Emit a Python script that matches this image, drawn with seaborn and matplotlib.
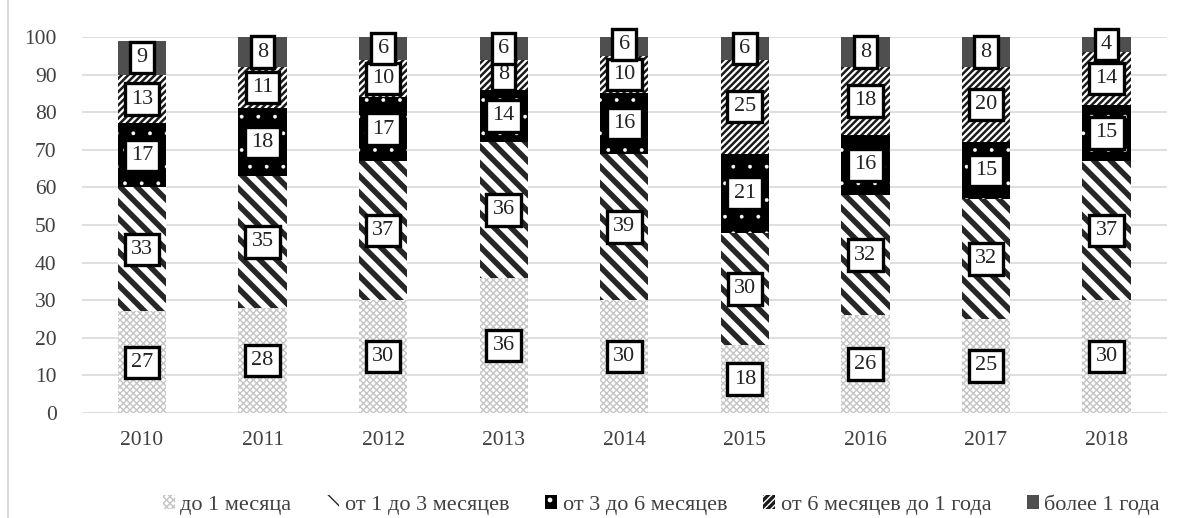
import numpy as np
import pandas as pd
import matplotlib.pyplot as plt
import seaborn as sns
from matplotlib.patches import Patch
from matplotlib.lines import Line2D

years = ["2010", "2011", "2012", "2013", "2014", "2015", "2016", "2017", "2018"]
series = ["до 1 месяца", "от 1 до 3 месяцев", "от 3 до 6 месяцев",
          "от 6 месяцев до 1 года", "более 1 года"]
upto_1m = [27, 28, 30, 36, 30, 18, 26, 25, 30]
m1_3 = [33, 35, 37, 36, 39, 30, 32, 32, 37]
m3_6 = [17, 18, 17, 14, 16, 21, 16, 15, 15]
m6_12 = [13, 11, 10, 8, 10, 25, 18, 20, 14]
over_1y = [9, 8, 6, 6, 6, 6, 8, 8, 4]
values = [upto_1m, m1_3, m3_6, m6_12, over_1y]

# face, hatch, hatch color, hatch linewidth
styles = [
    ("white", "xxxxx", "#c4c4c4", 1.0),
    ("white", "\\\\", "#262626", 4.0),
    ("black", ".", "white", 0.3),
    ("#1a1a1a", "/////", "white", 1.6),
    ("#4f4f4f", "", "#4f4f4f", 1.0),
]

sns.set_style("white")
plt.rcParams["font.family"] = ["Liberation Serif", "DejaVu Serif"]

fig = plt.figure(figsize=(11.81, 5.18), dpi=100)
ax = fig.add_axes([0.0692, 0.2027, 0.9188, 0.7259])

bottom = np.zeros(len(years))
for name, vals, (fc, hatch, hc, hlw) in zip(series, values, styles):
    plt.rcParams["hatch.linewidth"] = hlw
    n_before = len(ax.patches)
    df = pd.DataFrame({"year": years, "value": vals})
    sns.barplot(data=df, x="year", y="value", ax=ax, width=0.4,
                bottom=bottom, color=fc, saturation=1, linewidth=0)
    for p in ax.patches[n_before:]:
        p.set_facecolor(fc)
        p.set_edgecolor(hc)
        p.set_linewidth(0)
        p.set_hatch(hatch)
    for i, v in enumerate(vals):
        ax.text(i, bottom[i] + v / 2, str(v), ha="center", va="center",
                fontsize=16, color="#222222", zorder=5, clip_on=False,
                bbox=dict(boxstyle="square,pad=0.28", fc="white",
                          ec="black", lw=2.4))
    bottom = bottom + np.array(vals)

ax.set_xlim(-0.5, 8.5)
ax.set_ylim(0, 100)
ax.set_yticks(range(0, 101, 10))
ax.set_xlabel("")
ax.set_ylabel("")
ax.yaxis.grid(True, color="#d9d9d9", lw=1.2)
ax.set_axisbelow(True)
for s in ax.spines.values():
    s.set_visible(False)
ax.tick_params(axis="both", length=0, labelsize=15.5, colors="#404040")
ax.tick_params(axis="y", pad=18)
ax.tick_params(axis="x", pad=13)

handles = []
for fc, hatch, hc, hlw in styles:
    handles.append(Patch(facecolor=fc, edgecolor=hc, hatch=hatch, lw=0))
fig.legend(handles, series, loc="center", bbox_to_anchor=(0.56, 0.026),
           ncol=5, frameon=False, fontsize=16, handlelength=0.55,
           handleheight=0.55, handletextpad=0.25, columnspacing=1.6,
           labelcolor="#404040")

fig.add_artist(Line2D([8 / 1181, 8 / 1181], [0, 1], color="#d9d9d9", lw=1.5))

fig.savefig("out.png", dpi=100)
